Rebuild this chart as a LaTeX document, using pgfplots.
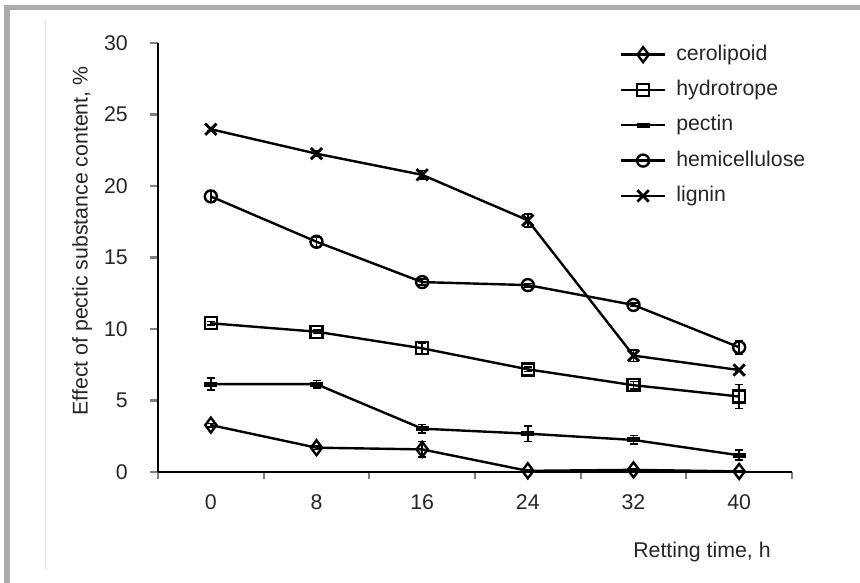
\documentclass[border=0pt]{standalone}
\usepackage{fontspec}
\setmainfont{Liberation Sans}
\usepackage{pgfplots}
\pgfplotsset{compat=1.18}
\begin{document}
\fontsize{21.3}{24}\selectfont
\begin{tikzpicture}[x=1pt,y=1pt]
\path[use as bounding box] (0,0) rectangle (860,583);
% page frame
\fill[black!33] (4,573) rectangle (860,578);
\fill[black!33] (4,0) rectangle (10,578);
\draw[black!10,line width=0.8] (45.5,13) -- (45.5,563);
\begin{axis}[at={(158pt,111pt)},anchor=south west,scale only axis,width=634pt,height=429pt,
  xmin=-0.5,xmax=5.5,ymin=0,ymax=30,
  axis lines=left,axis line style={-,line width=2.2pt},
  tick align=outside,
  xtick={0,...,5},xticklabels={0,8,16,24,32,40},major x tick style={draw=none},
  minor xtick={-0.5,0.5,...,5.5},minor tick length=7pt,
  minor x tick style={line width=2.2pt},
  ytick={0,5,...,30},major tick length=8pt,y tick style={line width=2.2pt},
  /pgf/number format/assume math mode=true,
  tick label style={text=black!85},
  xticklabel style={yshift=-7pt},
  yticklabel style={xshift=-15pt},
  error bars/error mark options={rotate=90,mark size=4pt,line width=1.6pt},
  error bars/error bar style={line width=1.6pt},
  legend style={at={(rel axis cs:0.7235,1.0)},anchor=north west,draw=none,fill=none,
    font=\fontsize{21.3}{24}\selectfont,text=black!85,row sep=16.3pt,column sep=10pt,
    nodes={inner sep=0pt,text height=15pt,text depth=4pt}},
  legend cell align=left,
  legend image code/.code={\draw[mark repeat=2,mark phase=2,#1] plot coordinates {(0pt,0pt) (22pt,0pt) (44pt,0pt)};},
]
\addplot[black,line width=2.4pt,mark=diamond,mark size=7.5pt,mark options={solid,line width=2.4pt},
  error bars/.cd,y dir=both,y explicit] coordinates {
 (0,3.28) +- (0,0.12) (1,1.70) +- (0,0.12) (2,1.58) +- (0,0.55)
 (3,0.08) +- (0,0.05) (4,0.15) +- (0,0.10) (5,0.04) +- (0,0.05)};
\addlegendentry{cerolipoid}
\addplot[black,line width=2.4pt,mark=square,mark size=6pt,mark options={solid,line width=2.4pt},
  error bars/.cd,y dir=both,y explicit] coordinates {
 (0,10.40) +- (0,0.12) (1,9.81) +- (0,0.12) (2,8.65) +- (0,0.35)
 (3,7.18) +- (0,0.15) (4,6.07) +- (0,0.25) (5,5.28) +- (0,0.85)};
\addlegendentry{hydrotrope}
\addplot[black,line width=2.4pt,mark=-,mark size=6.5pt,mark options={solid,line width=5pt},
  error bars/.cd,y dir=both,y explicit] coordinates {
 (0,6.14) +- (0,0.42) (1,6.14) +- (0,0.25) (2,3.03) +- (0,0.30)
 (3,2.68) +- (0,0.55) (4,2.24) +- (0,0.30) (5,1.17) +- (0,0.35)};
\addlegendentry{pectin}
\addplot[black,line width=2.4pt,mark=o,mark size=6pt,mark options={solid,line width=2.4pt},
  error bars/.cd,y dir=both,y explicit] coordinates {
 (0,19.27) +- (0,0.40) (1,16.10) +- (0,0.35) (2,13.28) +- (0,0.20)
 (3,13.07) +- (0,0.12) (4,11.68) +- (0,0.12) (5,8.72) +- (0,0.45)};
\addlegendentry{hemicellulose}
\addplot[black,line width=2.4pt,mark=x,mark size=8pt,mark options={solid,line width=2.8pt},
  error bars/.cd,y dir=both,y explicit] coordinates {
 (0,23.97) +- (0,0.12) (1,22.26) +- (0,0.20) (2,20.78) +- (0,0.30)
 (3,17.60) +- (0,0.45) (4,8.14) +- (0,0.40) (5,7.13) +- (0,0.10)};
\addlegendentry{lignin}
\end{axis}
\node[rotate=90,text=black!85] at (82,342) {Effect of pectic substance content, \%};
\node[text=black!85] at (702,31) {Retting time, h};
\end{tikzpicture}
\end{document}
